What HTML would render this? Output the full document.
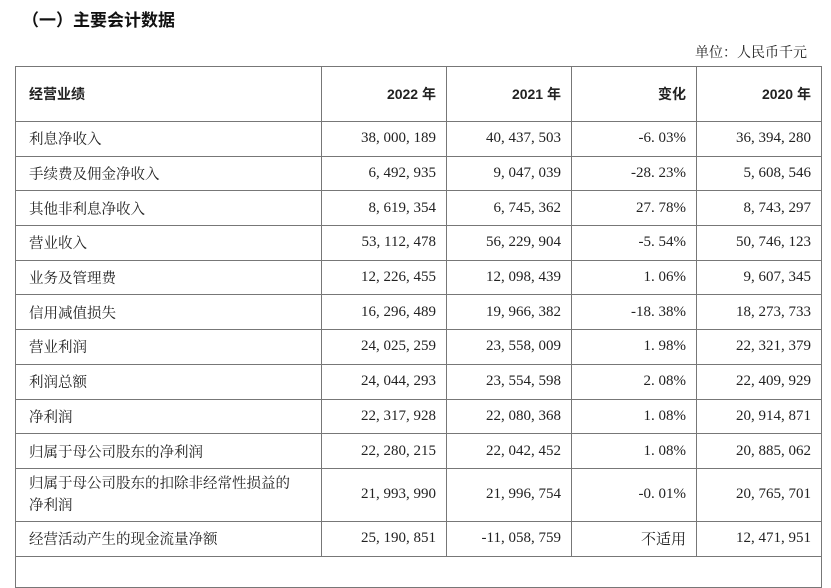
<!DOCTYPE html>
<html><head><meta charset="utf-8"><style>
body{margin:0;width:831px;height:566px;overflow:hidden;background:#fff;font-family:"Liberation Serif","Noto Serif CJK SC",serif;color:#222;position:relative}
.title{position:absolute;left:22px;top:6px;font:bold 17px "Liberation Sans","Noto Sans CJK SC",sans-serif;color:#111}
.unit{position:absolute;right:24px;top:42px;font-size:14px}
table{position:absolute;left:15px;top:66px;border-collapse:collapse;table-layout:fixed;width:806px}
td{border:1px solid #777;font-size:15px;padding:0 10px;height:33.7px;text-align:right;white-space:nowrap}
td:first-child{text-align:left;padding-left:13px;font-size:14.5px}
tr.h td{height:54px;font-weight:bold;font-family:"Liberation Sans","Noto Sans CJK SC",sans-serif;font-size:14px}
tr.t td{height:52px}
tr.t td:first-child{white-space:normal;line-height:22px;padding-right:20px}
</style></head><body>
<div class="title">（一）主要会计数据</div>
<div class="unit">单位：人民币千元</div>
<table>
<colgroup><col style="width:306px"><col style="width:125px"><col style="width:125px"><col style="width:125px"><col style="width:125px"></colgroup>
<tr class="h"><td>经营业绩</td><td>2022 年</td><td>2021 年</td><td>变化</td><td>2020 年</td></tr>
<tr><td>利息净收入</td><td>38, 000, 189</td><td>40, 437, 503</td><td>-6. 03%</td><td>36, 394, 280</td></tr>
<tr><td>手续费及佣金净收入</td><td>6, 492, 935</td><td>9, 047, 039</td><td>-28. 23%</td><td>5, 608, 546</td></tr>
<tr><td>其他非利息净收入</td><td>8, 619, 354</td><td>6, 745, 362</td><td>27. 78%</td><td>8, 743, 297</td></tr>
<tr><td>营业收入</td><td>53, 112, 478</td><td>56, 229, 904</td><td>-5. 54%</td><td>50, 746, 123</td></tr>
<tr><td>业务及管理费</td><td>12, 226, 455</td><td>12, 098, 439</td><td>1. 06%</td><td>9, 607, 345</td></tr>
<tr><td>信用减值损失</td><td>16, 296, 489</td><td>19, 966, 382</td><td>-18. 38%</td><td>18, 273, 733</td></tr>
<tr><td>营业利润</td><td>24, 025, 259</td><td>23, 558, 009</td><td>1. 98%</td><td>22, 321, 379</td></tr>
<tr><td>利润总额</td><td>24, 044, 293</td><td>23, 554, 598</td><td>2. 08%</td><td>22, 409, 929</td></tr>
<tr><td>净利润</td><td>22, 317, 928</td><td>22, 080, 368</td><td>1. 08%</td><td>20, 914, 871</td></tr>
<tr><td>归属于母公司股东的净利润</td><td>22, 280, 215</td><td>22, 042, 452</td><td>1. 08%</td><td>20, 885, 062</td></tr>
<tr class="t"><td>归属于母公司股东的扣除非经常性损益的净利润</td><td>21, 993, 990</td><td>21, 996, 754</td><td>-0. 01%</td><td>20, 765, 701</td></tr>
<tr><td>经营活动产生的现金流量净额</td><td>25, 190, 851</td><td>-11, 058, 759</td><td>不适用</td><td>12, 471, 951</td></tr>
<tr><td colspan="5" style="height:30px"></td></tr>
</table>
</body></html>
